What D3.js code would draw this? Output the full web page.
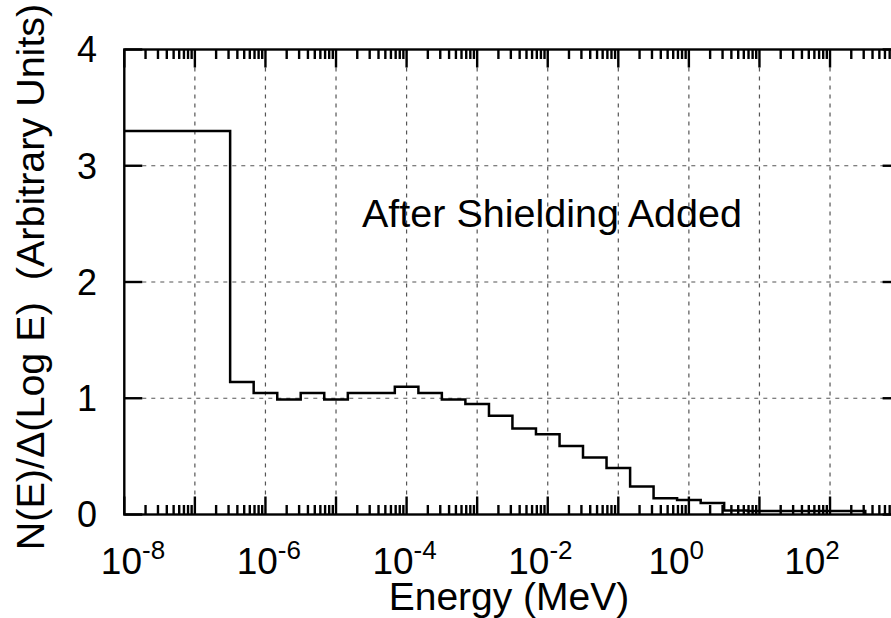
<!DOCTYPE html>
<html lang="en">
    <head>
        <meta charset="utf-8">
        <title>After Shielding Added</title>
        <script type="text/javascript" src="https://cdn.jsdelivr.net/npm/d3@7"></script>
        <style type="text/css">
            body { margin: 0; background: #fff; }
            text { font-family: "Liberation Sans", Arial, sans-serif; fill: #000; white-space: pre; }
        </style>
    </head>
    <body>
        <script type="text/javascript">
            //Bin edges (MeV) and histogram heights
            var binEdges = [1e-8, 3.16e-7, 6.81e-7, 1.47e-6, 3.16e-6, 6.81e-6, 1.47e-5,
                            3.16e-5, 6.81e-5, 1.47e-4, 3.16e-4, 6.81e-4, 1.47e-3,
                            3.16e-3, 6.81e-3, 1.47e-2, 3.16e-2, 6.81e-2, 0.147,
                            0.316, 0.681, 1.47, 3.16, 6.81, 14.7, 31.6, 68.1, 147, 316];
            var binValues = [3.30, 1.14, 1.045, 0.99, 1.045, 0.99, 1.045, 1.045, 1.10,
                             1.045, 0.99, 0.95, 0.85, 0.74, 0.69, 0.59, 0.49, 0.40,
                             0.24, 0.14, 0.125, 0.10, 0.035, 0.03, 0.03, 0.03, 0.03, 0.03];
            var xLabelExponents = ["-8", "-6", "-4", "-2", "0", "2"];
            var yTickValues = [0, 1, 2, 3, 4];

            var w = 891;
            var h = 618;
            //Plot frame (right edge falls just outside the picture)
            var pLeft = 124.3, pRight = 900.6, pTop = 49.5, pBottom = 514.5;

            var svg = d3.select("body")
                        .append("svg")
                        .attr("width", w)
                        .attr("height", h);

            var xScale = d3.scaleLog()
                            .domain([1e-8, 1e3])
                            .range([pLeft, pRight]);

            //Tick labels in the original sit on a slightly tighter spacing than the ticks
            var xLabelScale = d3.scaleLog()
                            .domain([1e-8, 1e2])
                            .range([133, 812]);

            var yScale = d3.scaleLinear()
                            .domain([0, 4])
                            .range([pBottom, pTop]);

            //All ticks 1..9 per decade; majors are the powers of ten
            var allTicks = xScale.ticks(200);
            var isDecade = function(d) {
                return Math.abs(Math.log10(d) - Math.round(Math.log10(d))) < 1e-9;
            };
            var decades = allTicks.filter(isDecade);

            //Grid lines (dashed), every decade and every unit
            svg.append("g").selectAll("line")
                .data(decades.slice(1, -1))
                .enter()
                .append("line")
                .attr("x1", function(d) { return xScale(d); })
                .attr("x2", function(d) { return xScale(d); })
                .attr("y1", pTop)
                .attr("y2", pBottom)
                .attr("stroke", "#555")
                .attr("stroke-width", 1.2)
                .attr("stroke-dasharray", "4,5");

            svg.append("g").selectAll("line")
                .data([1, 2, 3])
                .enter()
                .append("line")
                .attr("x1", pLeft)
                .attr("x2", pRight)
                .attr("y1", function(d) { return yScale(d); })
                .attr("y2", function(d) { return yScale(d); })
                .attr("stroke", "#555")
                .attr("stroke-width", 1.2)
                .attr("stroke-dasharray", "4,5");

            //Tick marks pointing inward, top and bottom
            [pBottom, pTop].forEach(function(edge) {
                var dir = edge === pBottom ? -1 : 1;
                svg.append("g").selectAll("line")
                    .data(allTicks)
                    .enter()
                    .append("line")
                    .attr("x1", function(d) { return xScale(d); })
                    .attr("x2", function(d) { return xScale(d); })
                    .attr("y1", edge)
                    .attr("y2", function(d) { return edge + dir * (isDecade(d) ? 18 : 9.5); })
                    .attr("stroke", "#000")
                    .attr("stroke-width", 2.4);
            });
            [pLeft, pRight].forEach(function(edge) {
                var dir = edge === pLeft ? 1 : -1;
                svg.append("g").selectAll("line")
                    .data(yTickValues)
                    .enter()
                    .append("line")
                    .attr("x1", edge)
                    .attr("x2", edge + dir * 18)
                    .attr("y1", function(d) { return yScale(d); })
                    .attr("y2", function(d) { return yScale(d); })
                    .attr("stroke", "#000")
                    .attr("stroke-width", 2.4);
            });

            //Histogram as a step line
            var pts = binValues.map(function(v, i) { return [binEdges[i], v]; });
            pts.push([binEdges[binEdges.length - 1], 0]);
            var line = d3.line()
                        .x(function(d) { return xScale(d[0]); })
                        .y(function(d) { return yScale(d[1]); })
                        .curve(d3.curveStepAfter);
            svg.append("path")
                .datum(pts)
                .attr("d", line)
                .attr("fill", "none")
                .attr("stroke", "#000")
                .attr("stroke-width", 2.5)
                .attr("stroke-linejoin", "miter");

            //Frame
            svg.append("rect")
                .attr("x", pLeft)
                .attr("y", pTop)
                .attr("width", pRight - pLeft)
                .attr("height", pBottom - pTop)
                .attr("fill", "none")
                .attr("stroke", "#000")
                .attr("stroke-width", 2.4);

            //Y tick labels
            svg.append("g").selectAll("text")
                .data(yTickValues)
                .enter()
                .append("text")
                .attr("x", 97)
                .attr("y", function(d) { return yScale(d); })
                .attr("dy", "0.36em")
                .attr("text-anchor", "end")
                .attr("font-size", "36px")
                .text(function(d) { return d; });

            //X tick labels 10^n
            var xl = svg.append("g").selectAll("text")
                .data(xLabelExponents)
                .enter()
                .append("text")
                .attr("x", function(d) { return xLabelScale(Math.pow(10, +d)); })
                .attr("y", 574)
                .attr("text-anchor", "middle")
                .attr("font-size", "37px");
            xl.append("tspan").text("10");
            xl.append("tspan")
                .attr("dy", "-15")
                .attr("font-size", "26px")
                .text(function(d) { return d; });

            //Axis titles
            svg.append("text")
                .attr("x", 509)
                .attr("y", 610)
                .attr("text-anchor", "middle")
                .attr("font-size", "39px")
                .text("Energy (MeV)");

            svg.append("text")
                .attr("transform", "translate(44,277) rotate(-90)")
                .attr("text-anchor", "middle")
                .attr("font-size", "39.5px")
                .text("N(E)/\u0394(Log E)  (Arbitrary Units)");

            //Annotation
            svg.append("text")
                .attr("x", 362)
                .attr("y", 227)
                .attr("font-size", "39.5px")
                .text("After Shielding Added");
        </script>
    </body>
</html>
